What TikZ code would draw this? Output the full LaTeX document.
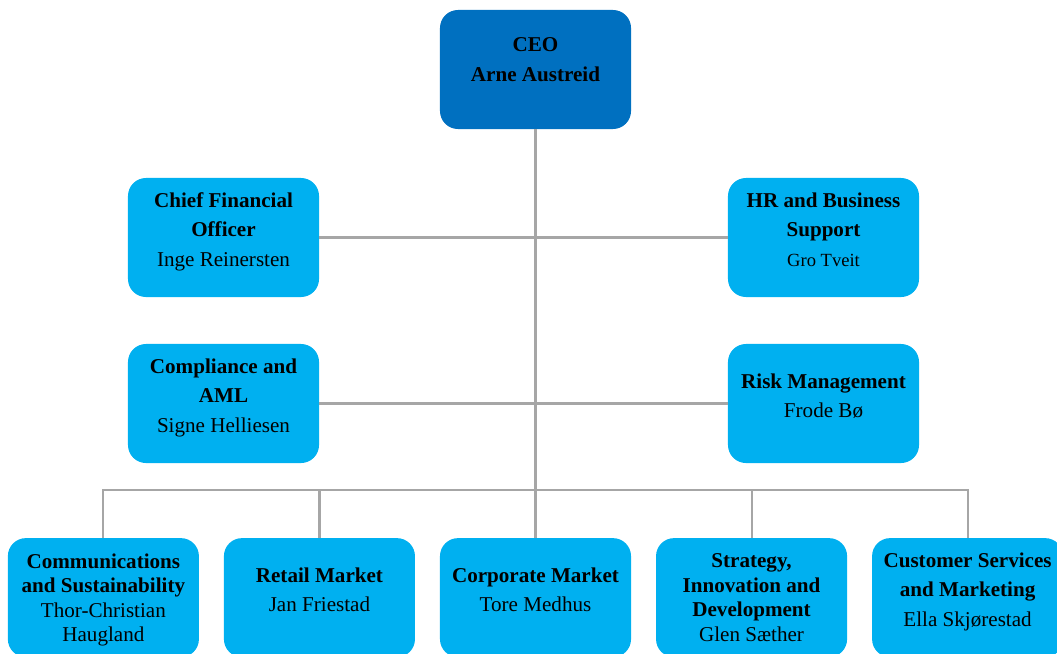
\documentclass[tikz,border=0pt]{standalone}
\usepackage{fontspec}
\setmainfont{Liberation Serif}
\usepackage{tikz}
\usetikzlibrary{positioning}

\definecolor{ceoblue}{HTML}{0070C0}
\definecolor{unitblue}{HTML}{00B0F0}
\definecolor{linegray}{HTML}{A6A6A6}

\begin{document}
\begin{tikzpicture}
[
	x = 0.025cm, y = -0.025cm,
	unit/.style	= {rectangle, rounded corners = 0.45cm, fill = unitblue, minimum width = 4.775cm, minimum height = 2.975cm, inner sep = 0cm, outer sep = 0cm, align = center, font = \fontsize{15pt}{21pt}\selectfont, text depth = 0.4cm},
	boss/.style	= {unit, fill = ceoblue, text depth = 0.5cm},
	tight/.style	= {font = \fontsize{15pt}{17.4pt}\selectfont, text depth = 0cm},
	conn/.style	= {draw = linegray, line width = 1.5pt},
	node distance = 0.625cm and 0.625cm,
]

	\useasboundingbox (0,0) rectangle (1057,653);

	\node (ceo) [boss] at (535.5,69.5) {\textbf{CEO}\\\textbf{Arne Austreid}};
	%
	\node (cfo) [unit] at (223.5,237.5) {\textbf{Chief Financial}\\\textbf{Officer}\\Inge Reinersten};
	\node (hr) [unit] at (823.5,237.5) {\textbf{HR and Business}\\\textbf{Support}\\{\fontsize{13.2pt}{19pt}\selectfont Gro Tveit}};
	\node (compl) [unit] at (223.5,403.5) {\textbf{Compliance and}\\\textbf{AML}\\Signe Helliesen};
	\node (risk) [unit] at (823.5,403.5) {\textbf{Risk Management}\\Frode Bø};
	%
	\node (corp) [unit, below = 10.225cm of ceo] {\textbf{Corporate Market}\\Tore Medhus};
	\node (retail) [unit, left = of corp] {\textbf{Retail Market}\\Jan Friestad};
	\node (comm) [unit, tight, left = of retail] {\textbf{Communications}\\\textbf{and Sustainability}\\Thor-Christian\\Haugland};
	\node (strat) [unit, tight, right = of corp] {\textbf{Strategy,}\\\textbf{Innovation and}\\\textbf{Development}\\Glen Sæther};
	\node (cust) [unit, right = of strat] {\textbf{Customer Services}\\\textbf{and Marketing}\\Ella Skjørestad};
	%
	\coordinate (bus) at (535.5,490);

	\draw [conn] (ceo.south) -- (corp.north);
	\draw [conn] (cfo.east) -- (hr.west);
	\draw [conn] (compl.east) -- (risk.west);

	\draw [conn] (comm.north) -- (comm.north |- bus) -- (cust.north |- bus) -- (cust.north);
	\draw [conn] (retail.north) -- (retail.north |- bus);
	\draw [conn] (strat.north) -- (strat.north |- bus);

\end{tikzpicture}
\end{document}
